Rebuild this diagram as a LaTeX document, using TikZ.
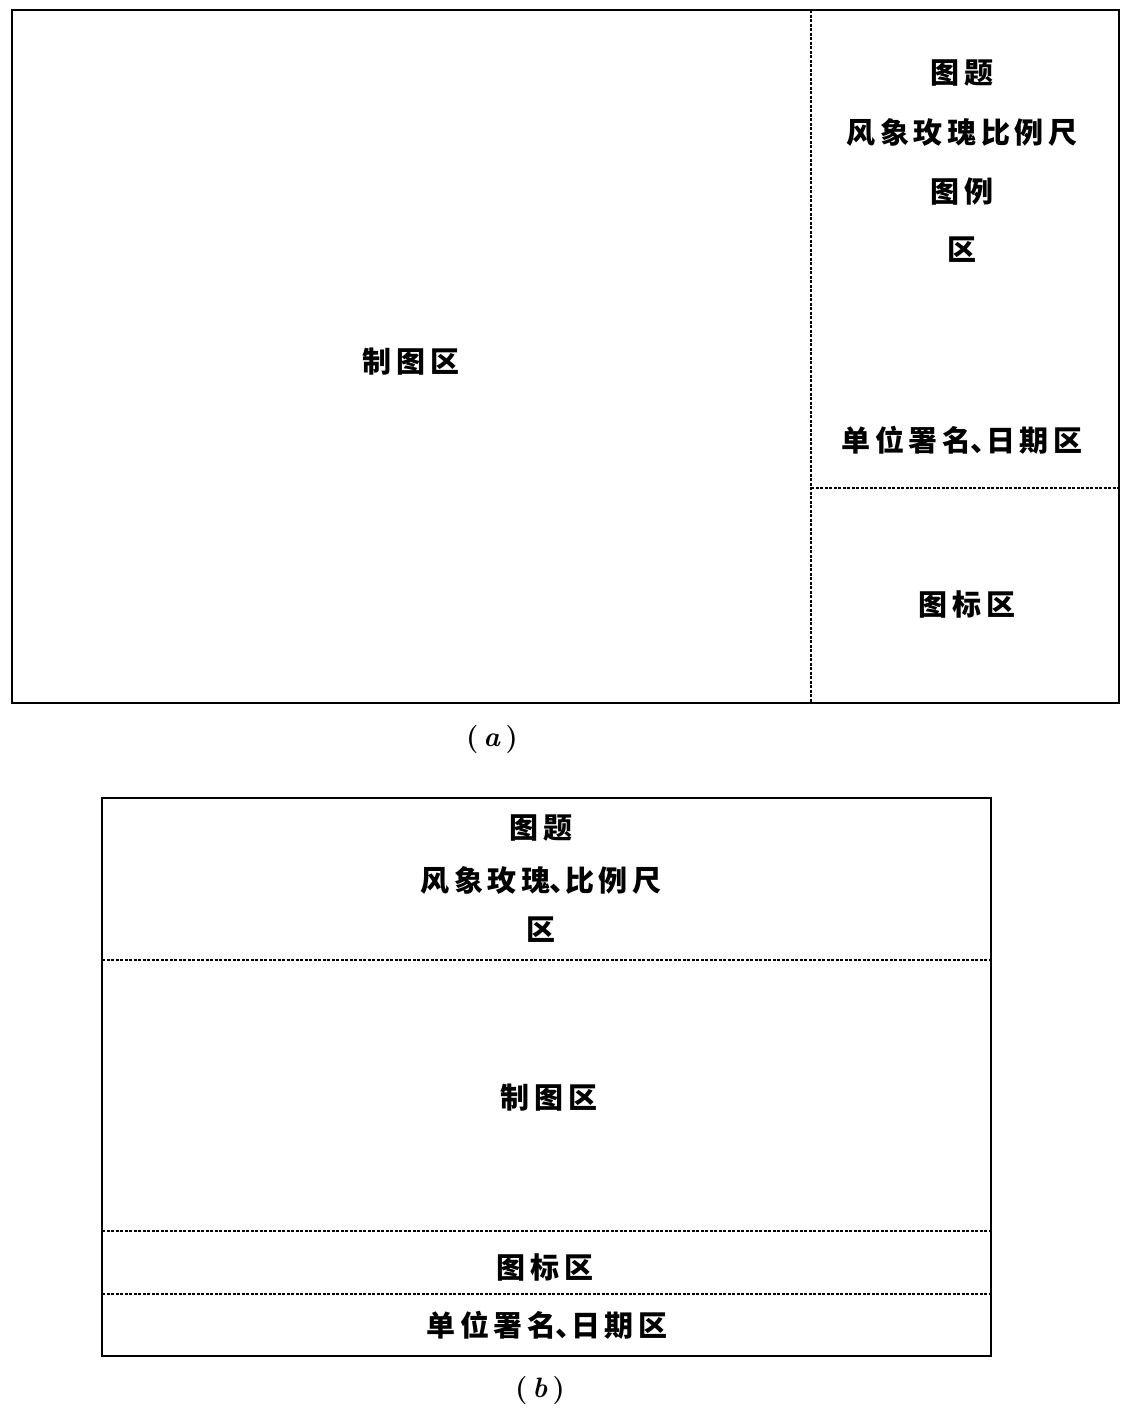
\documentclass[tikz,border=0pt]{standalone}
\usepackage{fontspec}
\newfontfamily\cjk{Noto Sans CJK SC}[LetterSpace=16]
\newcommand{\dunhao}{\kern-1pt 、\kern-13pt}
\tikzset{
  frame/.style={draw=black, line width=1.8pt},
  sep/.style={draw=black, line width=1.1pt, dash pattern=on 3pt off 1.5pt},
  lbl/.style={font=\cjk\bfseries\fontsize{29}{31}\selectfont, inner sep=0pt, anchor=center},
  captxt/.style={font=\bfseries\fontsize{28}{30}\selectfont, inner sep=0pt, anchor=center}
}
\begin{document}
\begin{tikzpicture}[x=1pt,y=-1pt]
\useasboundingbox (0,0) rectangle (1132,1416);
% ---- (a)
\coordinate (a1) at (12,10);
\coordinate (a2) at (1119,703);
\draw[frame] (a1) rectangle (a2);
\coordinate (av1) at (811,10);
\coordinate (av2) at (811,703);
\draw[sep] (av1) -- (av2);
\coordinate (ah1) at (811,488);
\coordinate (ah2) at (1119,488);
\draw[sep] (ah1) -- (ah2);
\node[lbl] (at1) at (962,73) {图题};
\node[lbl] (at2) at (962,132) {风象玫瑰比例尺};
\node[lbl] (at3) at (962,192) {图例};
\node[lbl] (at4) at (962,250) {区};
\node[lbl] (at5) at (962,440) {单位署名\dunhao 日期区};
\node[lbl] (at6) at (967,604) {图标区};
\node[lbl] (at7) at (411,362) {制图区};
\node[captxt] (capa) at (492,740) {(\kern5pt\textit{a}\kern5pt)};
% ---- (b)
\coordinate (b1) at (102,798);
\coordinate (b2) at (991,1356);
\draw[frame] (b1) rectangle (b2);
\coordinate (bh1l) at (102,960);
\coordinate (bh1r) at (991,960);
\draw[sep] (bh1l) -- (bh1r);
\coordinate (bh2l) at (102,1231);
\coordinate (bh2r) at (991,1231);
\draw[sep] (bh2l) -- (bh2r);
\coordinate (bh3l) at (102,1294);
\coordinate (bh3r) at (991,1294);
\draw[sep] (bh3l) -- (bh3r);
\node[lbl] (bt1) at (541,828) {图题};
\node[lbl] (bt2) at (541,880) {风象玫瑰\dunhao 比例尺};
\node[lbl] (bt3) at (541,930) {区};
\node[lbl] (bt4) at (549,1098) {制图区};
\node[lbl] (bt5) at (545,1267) {图标区};
\node[lbl] (bt6) at (547,1325) {单位署名\dunhao 日期区};
\node[captxt] (capb) at (540,1390) {(\kern5pt\textit{b}\kern5pt)};
\end{tikzpicture}
\end{document}
